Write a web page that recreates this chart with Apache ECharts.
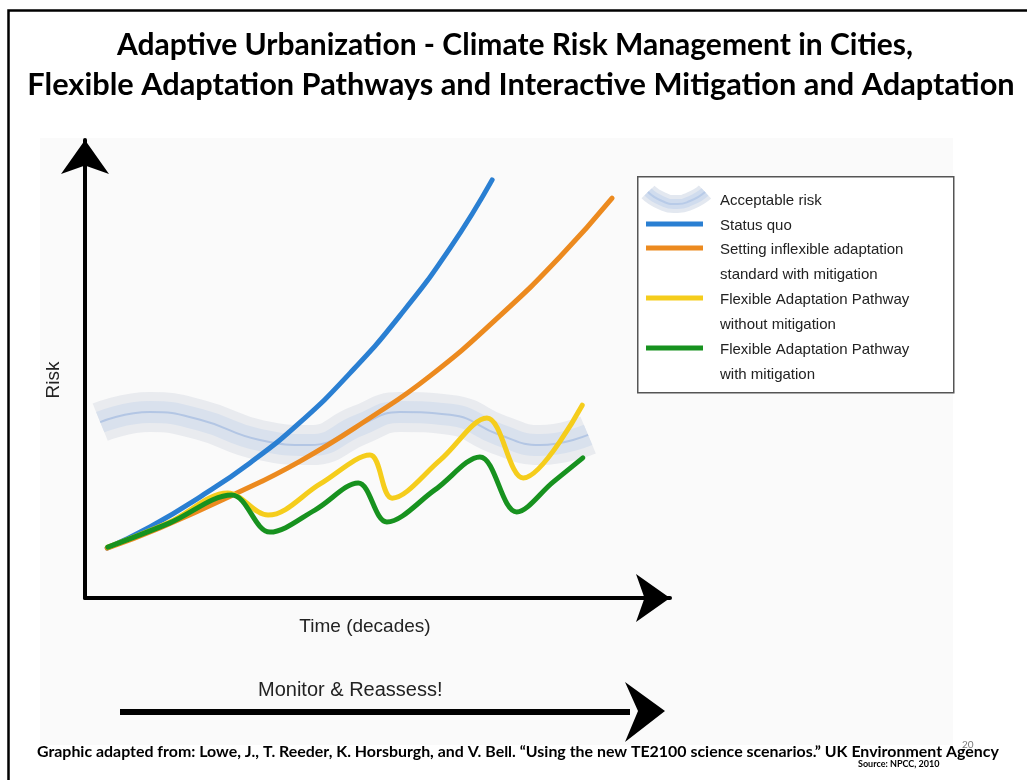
<!DOCTYPE html>
<html>
<head>
<meta charset="utf-8">
<title>Adaptive Urbanization</title>
<script src="https://cdn.jsdelivr.net/npm/echarts@6/dist/echarts.min.js"></script>
<style>
  html, body { margin: 0; padding: 0; background: #fff; }
  #chart { width: 1027px; height: 780px; }
</style>
</head>
<body>
<div id="chart"></div>
<script>
  // time in decades (x), risk (y)
  var acceptableRisk = [[0.26, 3.84], [1.11, 4.06], [1.97, 3.89], [2.99, 3.45], [3.85, 3.34], [4.70, 3.78],
    [5.38, 4.06], [6.24, 4.00], [7.09, 3.56], [7.78, 3.34], [8.60, 3.56]];
  var statusQuo = [[0.38, 1.09], [1.11, 1.55], [1.97, 2.21], [2.82, 2.95], [3.68, 3.84], [4.53, 4.91],
    [5.38, 6.16], [6.24, 7.64], [6.96, 9.13]];
  var inflexible = [[0.38, 1.09], [1.28, 1.53], [2.53, 2.25], [3.68, 2.99], [4.87, 3.93], [5.90, 4.85],
    [7.09, 6.16], [8.12, 7.45], [9.01, 8.73]];
  var flexNoMitigation = [[0.39, 1.11], [1.45, 1.66], [2.44, 2.29], [3.13, 1.81], [4.02, 2.49], [4.87, 3.12],
    [5.25, 2.18], [6.07, 3.01], [6.87, 3.93], [7.49, 2.62], [8.50, 4.21]];
  var flexMitigation = [[0.39, 1.11], [1.45, 1.64], [2.51, 2.25], [3.16, 1.44], [3.93, 1.92], [4.67, 2.51],
    [5.16, 1.66], [5.98, 2.36], [6.75, 3.08], [7.38, 1.88], [8.00, 2.53], [8.51, 3.06]];

  var legendNames = ['Acceptable risk', 'Status quo', 'Setting inflexible adaptation\nstandard with mitigation',
    'Flexible Adaptation Pathway\nwithout mitigation', 'Flexible Adaptation Pathway\nwith mitigation'];
  var colors = ['#b3c6e4', '#2a7fd2', '#ec8a1f', '#f5cd1c', '#17921f'];

  var titleLines = ['Adaptive Urbanization - Climate Risk Management in Cities,',
    'Flexible Adaptation Pathways and Interactive Mitigation and Adaptation'];
  var sourceText = 'Graphic adapted from: Lowe, J., T. Reeder, K. Horsburgh, and V. Bell. \u201cUsing the new TE2100 science scenarios.\u201d UK Environment Agency';

  var myChart = echarts.init(document.getElementById('chart'));

  function curve(name, data, color, smooth) {
    return {
      name: name, type: 'line', data: data, smooth: smooth, symbol: 'none', z: 5,
      lineStyle: {color: color, width: 5, cap: 'round'}
    };
  }

  function band(data, width, color, z) {
    return {
      name: legendNames[0], type: 'line', data: data, smooth: 0.5, symbol: 'none', z: z,
      lineStyle: {color: color, width: width, cap: 'butt'}
    };
  }

  // legend rows drawn by hand so icons sit on the first text line
  var legendRows = [0, 25, 49, 99, 149];
  var legendGraphic = [{
    type: 'rect', left: 637, top: 176, shape: {width: 316, height: 216},
    style: {fill: '#fff', stroke: '#555', lineWidth: 1.5}, z: 10
  }];
  var waveIcon = [[648, 192], [662, 201], [676, 204], [690, 201], [705, 192]];
  legendRows.forEach(function (dy, i) {
    if (i === 0) {
      legendGraphic.push({
        type: 'polyline', z: 11, shape: {points: waveIcon, smooth: 0.6},
        style: {stroke: '#e3e8f0', lineWidth: 18, fill: null}
      });
      legendGraphic.push({
        type: 'polyline', z: 11, shape: {points: waveIcon, smooth: 0.6},
        style: {stroke: '#d0dcee', lineWidth: 10, fill: null}
      });
      legendGraphic.push({
        type: 'polyline', z: 12, shape: {points: waveIcon, smooth: 0.6},
        style: {stroke: '#b8cbe8', lineWidth: 2, fill: null}
      });
    } else {
      legendGraphic.push({
        type: 'line', z: 11, shape: {x1: 646, y1: 199 + dy, x2: 703, y2: 199 + dy},
        style: {stroke: colors[i], lineWidth: 5}
      });
    }
    legendGraphic.push({
      type: 'text', z: 11, left: 720, top: 188 + dy,
      style: {text: legendNames[i], fill: '#222', font: '15px "Liberation Sans", Arial', lineHeight: 25}
    });
  });

  myChart.setOption({
    backgroundColor: '#fff',
    animation: false,
    grid: {left: 85, top: 140, width: 585, height: 458},
    xAxis: {
      type: 'value', min: 0, max: 10,
      name: 'Time (decades)', nameLocation: 'middle', nameGap: 19,
      nameTextStyle: {color: '#222', fontSize: 19, fontFamily: 'Liberation Sans', padding: [0, 25, 0, 0]},
      axisLine: {lineStyle: {color: '#000', width: 4}, symbol: ['none', 'arrow'], symbolSize: [36, 34]},
      axisTick: {show: false}, axisLabel: {show: false}, splitLine: {show: false}
    },
    yAxis: {
      type: 'value', min: 0, max: 10,
      name: 'Risk', nameLocation: 'middle', nameGap: 22, nameRotate: 90,
      nameTextStyle: {color: '#222', fontSize: 19, fontFamily: 'Liberation Sans', padding: [0, 22, 0, 0]},
      axisLine: {lineStyle: {color: '#000', width: 4}, symbol: ['none', 'arrow'], symbolSize: [36, 34]},
      axisTick: {show: false}, axisLabel: {show: false}, splitLine: {show: false}
    },
    series: [
      band(acceptableRisk, 40, '#e9ebef', 1),
      band(acceptableRisk, 22, '#d9e1ed', 2),
      band(acceptableRisk, 2, colors[0], 3),
      curve(legendNames[1], statusQuo, colors[1], 0.5),
      curve(legendNames[2], inflexible, colors[2], 0.5),
      curve(legendNames[3], flexNoMitigation, colors[3], 0.35),
      curve(legendNames[4], flexMitigation, colors[4], 0.35)
    ],
    graphic: [
      {type: 'rect', left: 6, top: 8, shape: {width: 1040, height: 800},
        style: {fill: null, stroke: '#000', lineWidth: 2.5}, z: -10},
      {type: 'rect', left: 40, top: 138, shape: {width: 913, height: 607},
        style: {fill: '#fafafa'}, z: -9, silent: true},
      {type: 'text', x: 515, y: 45, z: 20,
        style: {text: titleLines[0], fill: '#000', font: 'bold 30px Lato, "Open Sans", sans-serif',
          align: 'center', verticalAlign: 'middle'}},
      {type: 'text', x: 521, y: 85, z: 20, scaleX: 1.025,
        style: {text: titleLines[1], fill: '#000', font: 'bold 30px Lato, "Open Sans", sans-serif',
          align: 'center', verticalAlign: 'middle'}},
      // Monitor & Reassess arrow
      {type: 'line', z: 20, shape: {x1: 120, y1: 712, x2: 630, y2: 712}, style: {stroke: '#000', lineWidth: 6}},
      {type: 'polygon', z: 20,
        shape: {points: [[625, 682], [665, 711], [625, 742], [638, 711]]}, style: {fill: '#000'}},
      {type: 'text', z: 20, left: 258, top: 680,
        style: {text: 'Monitor & Reassess!', fill: '#222', font: '20px "Liberation Sans", Arial'}},
      // source line
      {type: 'text', z: 20, x: 37, y: 752, scaleX: 0.995,
        style: {text: sourceText, fill: '#000', font: 'bold 16px Lato, "Open Sans", sans-serif',
          verticalAlign: 'middle'}},
      {type: 'text', z: 20, x: 858, y: 764,
        style: {text: 'Source: NPCC, 2010', fill: '#000', font: 'bold 9px Lato, sans-serif', verticalAlign: 'middle'}},
      {type: 'text', z: 19, x: 962, y: 740,
        style: {text: '20', fill: '#777', font: '10px Lato, sans-serif'}}
    ].concat(legendGraphic)
  });
</script>
</body>
</html>
